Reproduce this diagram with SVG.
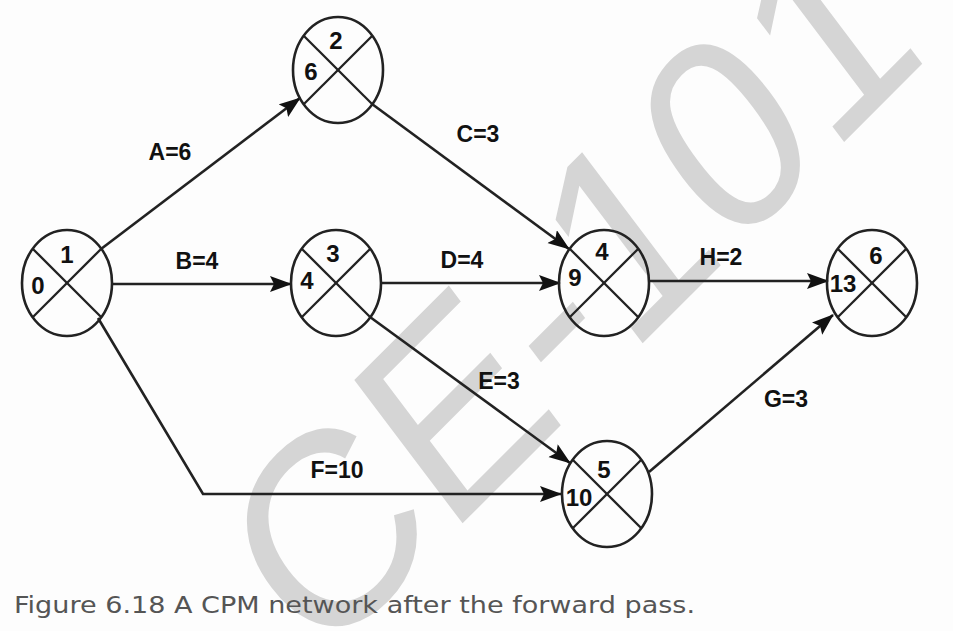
<svg xmlns="http://www.w3.org/2000/svg" width="953" height="631" viewBox="0 0 953 631">
<defs>
<marker id="arr" markerUnits="userSpaceOnUse" markerWidth="24" markerHeight="18" refX="21" refY="8" orient="auto">
<path d="M0,0 L22,8 L0,16 L4,8 z" fill="#111"/>
</marker>
<style>
.node ellipse{fill:none;stroke:#222;stroke-width:2.6}
.node line{stroke:#222;stroke-width:2.3}
.num{font-family:"Liberation Sans",Arial,sans-serif;font-weight:bold;font-size:24px;fill:#111;text-anchor:middle;dominant-baseline:central}
.edge{fill:none;stroke:#222;stroke-width:2.6;marker-end:url(#arr)}
.lbl{font-family:"Liberation Sans",Arial,sans-serif;font-weight:bold;font-size:23px;fill:#111;text-anchor:middle;dominant-baseline:central}
.wm{font-family:"Liberation Sans",Arial,sans-serif;font-size:240px;fill:#d5d5d5;text-anchor:middle}
</style>
</defs>
<rect width="953" height="631" fill="#fdfdfd"/>
<g id="watermark" transform="translate(624,362) scale(1,1.15) rotate(-41)">
<text class="wm" x="0" y="0">CE-101</text>
</g>
<g id="connectors">
<path class="edge" d="M101,249 L300,98"/>
<path class="edge" d="M113,284 L291,284"/>
<path class="edge" d="M372,104 L569,249"/>
<path class="edge" d="M381,283 L560,283"/>
<path class="edge" d="M370,317 L570,463"/>
<path class="edge" d="M98,318 L203,494 L561,494"/>
<path class="edge" d="M649,472 L833,315"/>
<path class="edge" d="M649,281 L828,281"/>
<text class="lbl" x="170" y="152">A=6</text>
<text class="lbl" x="197" y="261">B=4</text>
<text class="lbl" x="478" y="134">C=3</text>
<text class="lbl" x="462" y="260">D=4</text>
<text class="lbl" x="499" y="381">E=3</text>
<text class="lbl" x="337" y="470">F=10</text>
<text class="lbl" x="786" y="399">G=3</text>
<text class="lbl" x="721" y="257">H=2</text>
</g>
<g id="n1" class="node">
<ellipse cx="67" cy="283" rx="45" ry="53"/>
<line x1="32.7" y1="248.7" x2="101.3" y2="317.3"/><line x1="101.3" y1="248.7" x2="32.7" y2="317.3"/>
<text class="num" x="67" y="254">1</text><text class="num" x="38" y="285">0</text>
</g>
<g id="n2" class="node">
<ellipse cx="338" cy="70" rx="45" ry="53"/>
<line x1="303.7" y1="35.7" x2="372.3" y2="104.3"/><line x1="372.3" y1="35.7" x2="303.7" y2="104.3"/>
<text class="num" x="336" y="40">2</text><text class="num" x="311" y="71">6</text>
</g>
<g id="n3" class="node">
<ellipse cx="336" cy="283" rx="45" ry="53"/>
<line x1="301.7" y1="248.7" x2="370.3" y2="317.3"/><line x1="370.3" y1="248.7" x2="301.7" y2="317.3"/>
<text class="num" x="333" y="253">3</text><text class="num" x="307" y="280">4</text>
</g>
<g id="n4" class="node">
<ellipse cx="604" cy="283" rx="45" ry="53"/>
<line x1="569.7" y1="248.7" x2="638.3" y2="317.3"/><line x1="638.3" y1="248.7" x2="569.7" y2="317.3"/>
<text class="num" x="602" y="251">4</text><text class="num" x="575" y="277">9</text>
</g>
<g id="n5" class="node">
<ellipse cx="607" cy="494" rx="45" ry="53"/>
<line x1="572.7" y1="459.7" x2="641.3" y2="528.3"/><line x1="641.3" y1="459.7" x2="572.7" y2="528.3"/>
<text class="num" x="604" y="469">5</text><text class="num" x="579" y="497">10</text>
</g>
<g id="n6" class="node">
<ellipse cx="872" cy="283" rx="45" ry="53"/>
<line x1="837.7" y1="248.7" x2="906.3" y2="317.3"/><line x1="906.3" y1="248.7" x2="837.7" y2="317.3"/>
<text class="num" x="876" y="255">6</text><text class="num" x="843" y="283">13</text>
</g>
<text x="14" y="613" font-family="DejaVu Sans,sans-serif" font-size="23" fill="#555" textLength="681" lengthAdjust="spacingAndGlyphs">Figure 6.18 A CPM network after the forward pass.</text>
</svg>
